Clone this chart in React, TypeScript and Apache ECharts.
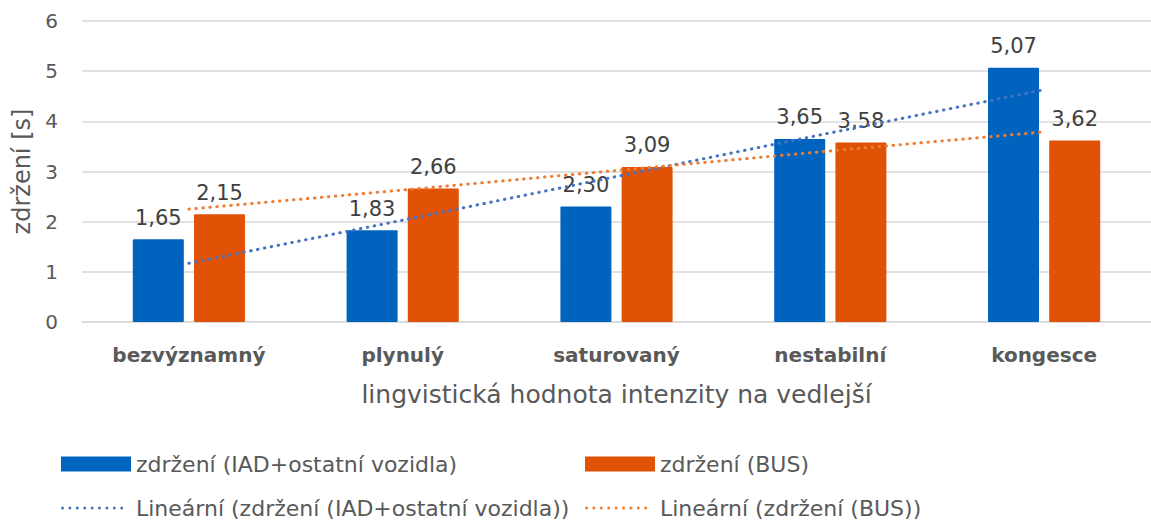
import React, { useEffect, useRef } from "react";
import * as echarts from "echarts";

const categories = ["bezvýznamný", "plynulý", "saturovaný", "nestabilní", "kongesce"];
const iadValues = [1.65, 1.83, 2.3, 3.65, 5.07];
const busValues = [2.15, 2.66, 3.09, 3.58, 3.62];
// linear trend lines
const iadTrend = [1.17, 2.03, 2.9, 3.77, 4.63];
const busTrend = [2.25, 2.63, 3.02, 3.41, 3.79];
const yTicks = [0, 1, 2, 3, 4, 5, 6];

const nameIad = "zdržení (IAD+ostatní vozidla)";
const nameBus = "zdržení (BUS)";
const nameIadTrend = "Lineární (zdržení (IAD+ostatní vozidla))";
const nameBusTrend = "Lineární (zdržení (BUS))";

const FONT = "DejaVu Sans";
const TEXT = "#595959";

// dotted legend icon: 9 round dots in a 70 x 3 box (trailing move keeps the box width)
const dotPath = (() => {
  let d = "";
  for (let i = 0; i < 9; i++) {
    const x = i * 7.4;
    d += `M${x},1.5a1.5,1.5 0 1,0 3,0a1.5,1.5 0 1,0 -3,0z`;
  }
  d += "M70,1.5";
  return "path://" + d;
})();

export default function App() {
  const ref = useRef<HTMLDivElement>(null);
  useEffect(() => {
    if (!ref.current) return;
    const chart = echarts.init(ref.current, null, { renderer: "svg" });
    const labelFmt = (p: any) => Number(p.value).toFixed(2).replace(".", ",");
    const dotted = { type: [0.5, 6.5] as any, cap: "round" as any, width: 3 };
    const legendText = { fontSize: 22, color: TEXT, fontFamily: FONT };
    const barLegend = (name: string, left: number, top: number) => ({
      left,
      top,
      itemWidth: 70,
      itemHeight: 15,
      textStyle: legendText,
      data: [{ name, icon: "rect" }],
    });
    const lineLegend = (name: string, left: number, top: number) => ({
      left,
      top,
      itemWidth: 70,
      itemHeight: 3,
      textStyle: legendText,
      data: [{ name, icon: dotPath }],
    });
    const dataLabel = {
      show: true,
      position: "top",
      distance: 11,
      formatter: labelFmt,
      fontSize: 21,
      color: "#404040",
      fontFamily: FONT,
    };
    chart.setOption({
      animation: false,
      textStyle: { fontFamily: FONT },
      grid: { left: 82, right: -1, top: 21, bottom: 201 },
      legend: [
        barLegend(nameIad, 56, 448),
        barLegend(nameBus, 580, 448),
        lineLegend(nameIadTrend, 56, 492),
        lineLegend(nameBusTrend, 580, 492),
      ],
      xAxis: {
        type: "category",
        data: categories,
        axisLine: { show: true, lineStyle: { color: "#d9d9d9", width: 1.5 } },
        axisTick: { show: false },
        axisLabel: {
          margin: 23,
          fontSize: 20,
          fontWeight: "bold",
          color: TEXT,
          fontFamily: FONT,
        },
        name: "lingvistická hodnota intenzity na vedlejší",
        nameLocation: "middle",
        nameGap: 60,
        nameTextStyle: { fontSize: 25, color: TEXT, fontFamily: FONT },
      },
      yAxis: {
        type: "value",
        min: yTicks[0],
        max: yTicks[yTicks.length - 1],
        interval: 1,
        axisLine: { show: false },
        axisTick: { show: false },
        splitLine: { lineStyle: { color: "#d9d9d9", width: 1.5 } },
        axisLabel: { margin: 24, fontSize: 20, color: TEXT, fontFamily: FONT },
        name: "zdržení [s]",
        nameLocation: "middle",
        nameGap: 46,
        nameTextStyle: { fontSize: 24, color: TEXT, fontFamily: FONT },
      },
      series: [
        {
          name: nameIad,
          type: "bar",
          data: iadValues,
          barWidth: 51,
          barGap: "20%",
          itemStyle: { color: "#0063be", borderRadius: 1 },
          label: dataLabel,
          z: 2,
        },
        {
          name: nameBus,
          type: "bar",
          data: busValues,
          barWidth: 51,
          barGap: "20%",
          itemStyle: { color: "#e05206", borderRadius: 1 },
          label: dataLabel,
          z: 2,
        },
        {
          name: nameIadTrend,
          type: "line",
          data: iadTrend,
          symbol: "none",
          lineStyle: { ...dotted, color: "#4472c4" },
          itemStyle: { color: "#4472c4" },
          z: 5,
        },
        {
          name: nameBusTrend,
          type: "line",
          data: busTrend,
          symbol: "none",
          lineStyle: { ...dotted, color: "#ed7d31" },
          itemStyle: { color: "#ed7d31" },
          z: 5,
        },
      ],
    });
    return () => chart.dispose();
  }, []);
  return (
    <div
      ref={ref}
      style={{ position: "fixed", left: 0, top: 0, width: 1151, height: 523, background: "#fff" }}
    />
  );
}
